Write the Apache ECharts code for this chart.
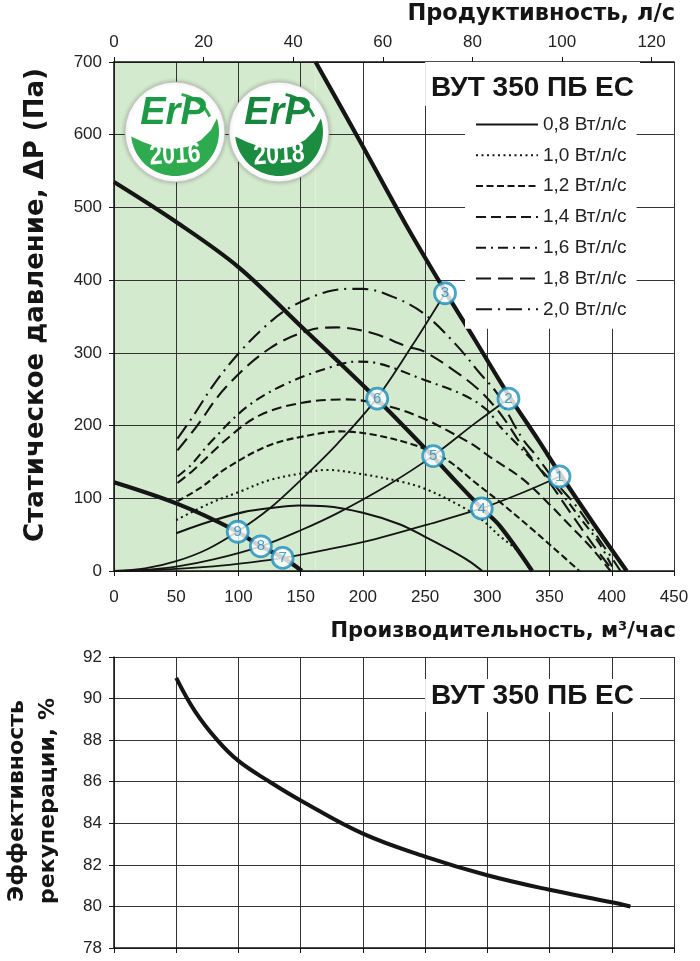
<!DOCTYPE html>
<html><head><meta charset="utf-8">
<script src="https://cdn.jsdelivr.net/npm/echarts@6/dist/echarts.min.js"></script>
<style>html,body{margin:0;padding:0;background:#fff}#c{width:700px;height:961px}</style>
</head><body><div id="c"></div>
<script>
// ---------- data ----------
const modelName = 'ВУТ 350 ПБ ЕС';
const topAxisTicks = [0, 20, 40, 60, 80, 100, 120];          // л/с
const fanNames = ['0,8 Вт/л/с','1,0 Вт/л/с','1,2 Вт/л/с','1,4 Вт/л/с','1,6 Вт/л/с','1,8 Вт/л/с','2,0 Вт/л/с'];

const maxCurve = [[162,700],[198,590],[234,478],[266,385],[290,318],[317,242],[341,180],[359,132],[385,66],[412,0]];
const zoneTop = [[0,700],[162,700]];
const midCurve = [[0,535],[50,480],[100,418],[150,337],[211,237],[256,158],[270,132],[295,87],[310,62],[336,0]];
const lowCurve = [[0,122],[53,91],[96,57],[118,34],[136,18],[151,0]];

const sysA = [[0,0],[25,3.5],[50,13.5],[75,30],[99,54],[125,86],[150,125],[180,176],[211,237],[240,311],[266,382]];
const sysB = [[0,0],[25,1.5],[50,6],[80,16],[118,34],[150,56],[180,80],[220,118],[256,158],[290,203],[317,237]];
const sysC = [[0,0],[40,2],[80,6.5],[110,12],[136,18],[170,29],[210,44],[250,63],[295,86],[330,109],[358,130]];

const fan08 = [[50,52],[77,68],[104,81],[128,87],[148,90],[170,89],[200,80],[230,64],[250,47],[270,29],[285,14],[296,0]];
const fan10 = [[50,70],[77,93],[101,109],[125,125],[150,134],[171,139],[200,133],[230,123],[250,113],[280,88],[296,70],[310,48],[324,28],[335,0]];
const fan12 = [[51,96],[70,115],[90,141],[125,173],[158,187],[182,192],[210,187],[240,174],[256,163],[270,150],[290,122],[310,95],[337,56],[355,29],[374,0]];
const fan14 = [[51,121],[64,139],[93,185],[117,214],[150,231],[187,236],[222,226],[251,208],[267,194],[289,173],[302,157],[328,127],[348,95],[365,65],[383,33],[399,0]];
const fan16 = [[51,130],[62,146],[77,176],[107,226],[139,258],[179,283],[195,288],[211,286],[249,263],[281,242],[300,221],[310,199],[323,176],[340,145],[358,110],[375,72],[390,38],[402,0]];
const fan18 = [[51,166],[66,198],[90,253],[125,306],[157,331],[179,335],[208,327],[235,309],[249,302],[273,276],[292,251],[305,228],[316,203],[326,177],[337,152],[350,122],[366,82],[385,36],[401,0]];
const fan20 = [[51,182],[64,214],[80,256],[99,297],[120,334],[141,362],[171,384],[190,388],[200,388],[227,375],[249,354],[275,311],[294,272],[308,244],[318,212],[329,180],[340,157],[355,122],[372,88],[390,43],[400,18],[407,0]];

const markers = [[358,130,'1'],[317,237,'2'],[266,382,'3'],[295.5,86,'4'],[256.5,158,'5'],[211.5,237,'6'],[135.5,18,'7'],[118,34,'8'],[99.4,54,'9']];

const efficiency = [[50,91],[65,89.4],[83,88],[100,87],[125,86],[150,85.1],[200,83.5],[250,82.4],[300,81.5],[350,80.8],[400,80.2],[415,80]];

// ---------- styles ----------
const fanData = [fan08, fan10, fan12, fan14, fan16, fan18, fan20];
const fanDash = ['solid', [2,3.5], [7,3.5], [10,5], [10,5,2,5], [15,7], [16,6,2,6]];
const INK = '#151515';
const GRID = '#333333';
const GREEN_BG = '#d4eace';
const BLUE = '#1b8dbd';
const TICKFONT = 'Liberation Sans';
const SMOOTH = 0.35;

const chart = echarts.init(document.getElementById('c'), null, {renderer: 'canvas'});

function axisCommon(extra) {
  return Object.assign({
    type: 'value', z: 1,
    axisLine: {show: true, lineStyle: {color: INK, width: 1.5}},
    axisTick: {show: true, inside: false, length: 5, lineStyle: {color: INK, width: 1}},
    axisLabel: {color: '#222', fontSize: 17, fontFamily: TICKFONT},
    splitLine: {show: true, lineStyle: {color: GRID, width: 1}}
  }, extra);
}

function thin(name, data, dash, width) {
  return {
    name, type: 'line', xAxisIndex: 0, yAxisIndex: 0, data, symbol: 'none', smooth: SMOOTH,
    itemStyle: {color: INK},
    lineStyle: {color: INK, width: width || 2, type: dash || 'solid'}, z: 3, silent: true
  };
}
function zone(name, data, smooth) {
  return {
    name, type: 'line', xAxisIndex: 0, yAxisIndex: 0, data, symbol: 'none', smooth,
    lineStyle: {width: 0}, areaStyle: {color: GREEN_BG, opacity: 1}, z: 0, silent: true
  };
}

const series = [];
series.push(zone('zoneTop', zoneTop, false));
series.push(zone('zoneMax', maxCurve, SMOOTH));
series.push(thin('sysA', sysA, 'solid', 1.8));
series.push(thin('sysB', sysB, 'solid', 1.8));
series.push(thin('sysC', sysC, 'solid', 1.8));
fanData.forEach((d, i) => series.push(thin(fanNames[i], d, fanDash[i], 2.1)));
series.push(thin('max', maxCurve, 'solid', 4.2));
series.push(thin('mid', midCurve, 'solid', 4.2));
series.push(thin('low', lowCurve, 'solid', 4.2));
series.push({
  name: 'points', type: 'scatter', xAxisIndex: 0, yAxisIndex: 0, data: markers,
  symbol: 'circle', symbolSize: 21, z: 5, silent: true,
  itemStyle: {color: '#fff', borderColor: BLUE, borderWidth: 2.8},
  label: {show: true, position: 'inside', formatter: p => p.data[2], color: BLUE, fontSize: 15, fontFamily: TICKFONT}
});
series.push({
  name: 'eff', type: 'line', xAxisIndex: 2, yAxisIndex: 1, data: efficiency, symbol: 'none', smooth: 0.4,
  lineStyle: {color: INK, width: 4}, z: 3, silent: true
});

function logo(cx, cy, year, dark, light) {
  const R = 44, pts = [];
  for (let a = -18; a <= 176; a += 4) { const t = a * Math.PI / 180; pts.push([R * Math.cos(t), R * Math.sin(t)]); }
  pts.push([-32,10],[-18,15],[-4,17],[12,15],[26,8],[36,-2]);
  const swoosh = [];
  for (let a = -80; a <= -22; a += 4) { const t = a * Math.PI / 180; swoosh.push([38 * Math.cos(t), 38 * Math.sin(t)]); }
  return {
    type: 'group', x: cx, y: cy, z: 30,
    children: [
      {type: 'circle', z: 30, shape: {cx: 0, cy: 0, r: 50}, style: {fill: '#fff', stroke: '#c4c4c4', lineWidth: 1, shadowBlur: 4, shadowColor: 'rgba(0,0,0,0.25)'}},
      {type: 'polygon', z: 31, shape: {points: pts}, style: {fill: light}},
      {type: 'polyline', z: 31, shape: {points: swoosh}, style: {stroke: light, lineWidth: 3, fill: null}},
      {type: 'text', z: 32, x: -2, y: -18, style: {text: 'ErP', fill: dark, font: 'italic bold 38px "Liberation Sans"', align: 'center', verticalAlign: 'middle'}},
      {type: 'text', z: 32, x: 0, y: 23, scaleY: 1.25, rotation: 0.06, style: {text: year, fill: '#fff', font: 'bold 23px "Liberation Sans Narrow", "Liberation Sans"', align: 'center', verticalAlign: 'middle'}}
    ]
  };
}

const option = {
  backgroundColor: '#fff',
  animation: false,
  title: [
    {text: modelName, right: 60, top: 62, padding: [11, 6, 3, 6], backgroundColor: '#fff',
     textStyle: {fontSize: 28, fontWeight: 'bold', fontFamily: TICKFONT, color: INK, lineHeight: 30}},
    {text: modelName, right: 60, top: 679, padding: [2, 6, 1, 6], backgroundColor: '#fff',
     textStyle: {fontSize: 28, fontWeight: 'bold', fontFamily: TICKFONT, color: INK, lineHeight: 30}}
  ],
  legend: {
    data: fanNames.map((n, i) => ({name: n, lineStyle: {type: fanDash[i], width: 2, color: INK},
      itemStyle: {color: 'rgba(0,0,0,0)', borderWidth: 0, opacity: 0}})),
    orient: 'vertical', left: 465, top: 105, padding: [10, 10, 10, 10],
    backgroundColor: '#fff', itemWidth: 62, itemHeight: 14, itemGap: 11.8,
    itemStyle: {color: 'rgba(0,0,0,0)', borderWidth: 0, opacity: 0},
    textStyle: {fontSize: 19, fontFamily: TICKFONT, color: '#222', lineHeight: 18},
    selectedMode: false
  },
  grid: [
    {left: 114, right: 26, top: 62, height: 509},
    {left: 114, right: 26, top: 657, height: 291}
  ],
  xAxis: [
    axisCommon({gridIndex: 0, position: 'bottom', min: 0, max: 450, interval: 50,
      axisLabel: {color: '#222', fontSize: 17, fontFamily: TICKFONT, margin: 18}}),
    axisCommon({gridIndex: 0, position: 'top', min: 0, max: 125,
      axisLabel: {color: '#222', fontSize: 17, fontFamily: TICKFONT, margin: 11, customValues: topAxisTicks},
      axisTick: {show: true, length: 5, lineStyle: {color: INK}, customValues: topAxisTicks},
      splitLine: {show: false}}),
    axisCommon({gridIndex: 1, min: 0, max: 450, interval: 50, axisLabel: {show: false}})
  ],
  yAxis: [
    axisCommon({gridIndex: 0, min: 0, max: 700, interval: 100,
      axisLabel: {color: '#222', fontSize: 17, fontFamily: TICKFONT, margin: 12}}),
    axisCommon({gridIndex: 1, min: 78, max: 92, interval: 2,
      axisLabel: {color: '#222', fontSize: 17, fontFamily: TICKFONT, margin: 12}})
  ],
  graphic: [
    {type: 'text', x: 675, y: 14, z: 20, style: {text: 'Продуктивность, л/с', font: 'bold 22.5px "DejaVu Sans"', fill: INK, align: 'right', verticalAlign: 'middle'}},
    {type: 'text', x: 676, y: 632, z: 20, style: {text: 'Производительность, м³/час', font: 'bold 21px "DejaVu Sans"', fill: INK, align: 'right', verticalAlign: 'middle'}},
    {type: 'text', x: 36, y: 305, rotation: Math.PI / 2, z: 20, style: {text: 'Статическое давление, ΔP (Па)', font: 'bold 26px "DejaVu Sans"', fill: INK, align: 'center', verticalAlign: 'middle'}},
    {type: 'text', x: 33, y: 801, rotation: Math.PI / 2, z: 20, style: {text: 'Эффективность\nрекуперации, %', font: 'bold 22px "DejaVu Sans"', lineHeight: 31, fill: INK, align: 'center', verticalAlign: 'middle'}},
    logo(175, 132, '2016', '#1c9a45', '#2fab4f'),
    logo(279, 132, '2018', '#15863b', '#1b8c40')
  ],
  series
};
chart.setOption(option);
</script></body></html>
